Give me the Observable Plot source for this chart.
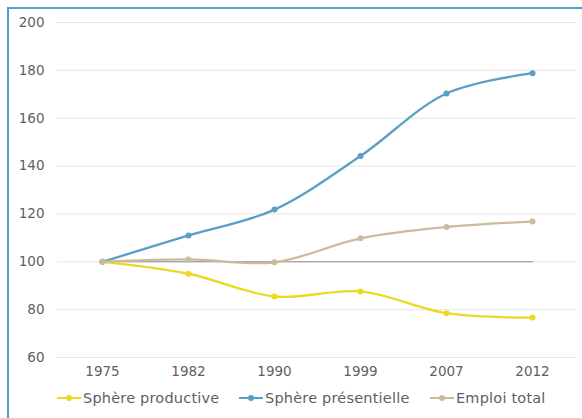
<!DOCTYPE html>
<html>
<head>
<meta charset="utf-8">
<script src="https://cdn.jsdelivr.net/npm/d3@7"></script>
<script src="https://cdn.jsdelivr.net/npm/@observablehq/plot@0.6"></script>
<style>
  body { margin: 0; background: #fff; }
  #wrap { position: relative; width: 582px; height: 418px; overflow: hidden; font-family: "DejaVu Sans", sans-serif; }
  #frame { position: absolute; left: 7px; top: 7px; width: 590px; height: 430px; border-top: 2px solid #5b9bc3; border-left: 2px solid #5b9bc3; box-sizing: border-box; }
  #chart { position: absolute; left: 0; top: 0; }
  #legend { position: absolute; top: 390px; left: 0; width: 582px; height: 20px; font-size: 14.5px; letter-spacing: 0.2px; color: #5f5f5f; }
  .item { position: absolute; display: flex; align-items: center; white-space: nowrap; }
  .sym { position: relative; width: 24px; height: 2px; margin-right: 2px; }
  .sym i { position: absolute; left: 9px; top: -2px; width: 6px; height: 6px; border-radius: 3px; }
</style>
</head>
<body>
<div id="wrap">
  <div id="frame"></div>
  <div id="chart"></div>
  <div id="legend"></div>
</div>
<script>
const years = ["1975", "1982", "1990", "1999", "2007", "2012"];
const productive = [100, 95, 85.5, 87.6, 78.5, 76.7];
const presentielle = [100, 111, 121.8, 144.2, 170.3, 178.8];
const emploi = [100, 101, 99.8, 109.8, 114.5, 116.8];
const baseline = [100, 100, 100, 100, 100, 100];
const seriesNames = ["Sphère productive", "Sphère présentielle", "Emploi total"];
const seriesColors = ["#ecd923", "#5b9ec6", "#cbbb9c"];
const yTicks = [60, 80, 100, 120, 140, 160, 180, 200];

const seriesValues = [productive, presentielle, emploi];
const rows = [];
seriesNames.forEach((name, i) => {
  years.forEach((yr, j) => rows.push({series: name, year: yr, value: seriesValues[i][j]}));
});
const baseRows = years.map((yr, j) => ({year: yr, value: baseline[j]}));

const plot = Plot.plot({
  width: 582,
  height: 385,
  marginTop: 22,
  marginBottom: 28,
  marginLeft: 57,
  marginRight: 6,
  style: {fontFamily: "DejaVu Sans, sans-serif", fontSize: "13.5px", color: "#5f5f5f", background: "transparent"},
  x: {type: "band", domain: years, padding: 0, label: null, tickSize: 0, tickPadding: 9},
  y: {domain: [60, 200], ticks: yTicks, label: null, tickSize: 0, tickPadding: 13},
  color: {domain: seriesNames, range: seriesColors},
  marks: [
    Plot.gridY(yTicks, {stroke: "#e6e6e6", strokeOpacity: 1, strokeWidth: 1}),
    Plot.line(baseRows, {x: "year", y: "value", stroke: "#8c8c8c", strokeWidth: 1}),
    Plot.line(rows, {x: "year", y: "value", z: "series", stroke: "series", strokeWidth: 2.3, curve: "catmull-rom"}),
    Plot.dot(rows, {x: "year", y: "value", fill: "series", r: 3})
  ]
});
document.getElementById("chart").appendChild(plot);

const legendX = [57, 239, 430];
const legend = document.getElementById("legend");
seriesNames.forEach((name, i) => {
  const item = document.createElement("div");
  item.className = "item";
  item.style.left = legendX[i] + "px";
  item.innerHTML = `<span class="sym" style="background:${seriesColors[i]}"><i style="background:${seriesColors[i]}"></i></span><span>${name}</span>`;
  legend.appendChild(item);
});
</script>
</body>
</html>
